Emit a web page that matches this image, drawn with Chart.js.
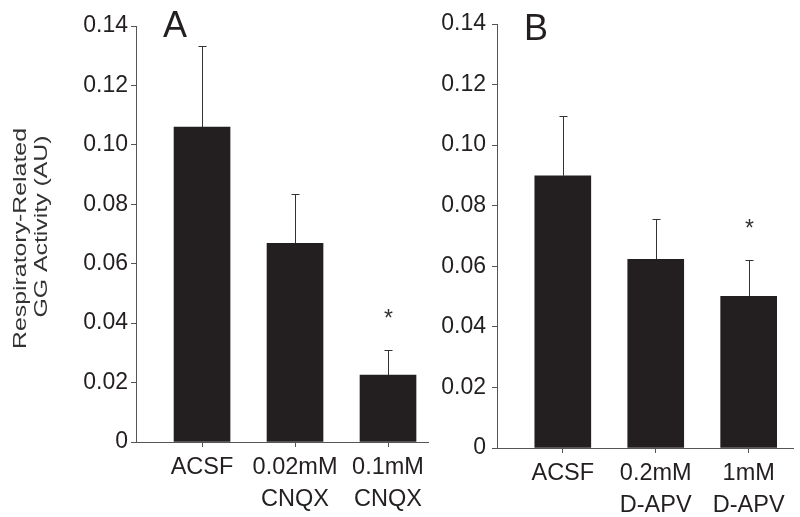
<!DOCTYPE html>
<html>
<head>
<meta charset="utf-8">
<script src="https://cdn.jsdelivr.net/npm/chart.js@4.4.1/dist/chart.umd.min.js"></script>
<style>
  body { margin: 0; background: #fff; }
  #wrap { position: relative; width: 800px; height: 517px; }
  canvas { position: absolute; top: 0; }
  #chartA { left: 0; }
  #chartB { left: 430px; }
</style>
</head>
<body>
<div id="wrap">
  <canvas id="chartA" width="430" height="517"></canvas>
  <canvas id="chartB" width="370" height="517"></canvas>
</div>
<script>
// dados
const categoriesA = [['ACSF'], ['0.02mM', 'CNQX'], ['0.1mM', 'CNQX']]
const valuesA = [0.106, 0.0669, 0.0225]
const errorsA = [0.0273, 0.0167, 0.0086]
const significantA = [false, false, true]

const categoriesB = [['ACSF'], ['0.2mM', 'D-APV'], ['1mM', 'D-APV']]
const valuesB = [0.0899, 0.0623, 0.0501]
const errorsB = [0.0196, 0.0134, 0.0121]
const significantB = [false, false, true]

const yTicks = [0, 0.02, 0.04, 0.06, 0.08, 0.10, 0.12, 0.14]

const fontFamily = "'Liberation Sans', Arial, sans-serif"
const inkColor = '#231f20'
const axisColor = '#555555'

// barras de erro + asterisco
const errorBarPlugin = {
  id: 'errorBars',
  afterDatasetsDraw(chart, args, opts) {
    let ctx = chart.ctx
    let yScale = chart.scales.y
    let meta = chart.getDatasetMeta(0)
    ctx.save()
    ctx.strokeStyle = '#333333'
    ctx.lineWidth = 1
    meta.data.forEach((bar, i) => {
      let x = Math.round(bar.x) + 0.5
      let yTop = Math.round(yScale.getPixelForValue(opts.values[i] + opts.errors[i])) + 0.5
      ctx.beginPath()
      ctx.moveTo(x, bar.y)
      ctx.lineTo(x, yTop)
      ctx.moveTo(x - 4, yTop)
      ctx.lineTo(x + 4, yTop)
      ctx.stroke()
      if (opts.significant[i]) {
        ctx.fillStyle = '#333333'
        ctx.font = '23px ' + fontFamily
        ctx.textAlign = 'center'
        ctx.textBaseline = 'alphabetic'
        ctx.fillText('*', x, yTop - 38 + 13)
      }
    })
    ctx.restore()
  }
}

const extraTextPlugin = {
  id: 'extraText',
  afterDraw(chart, args, opts) {
    let ctx = chart.ctx
    ctx.save()
    ctx.fillStyle = inkColor
    ctx.font = '36px ' + fontFamily
    ctx.textAlign = 'center'
    ctx.textBaseline = 'alphabetic'
    ctx.fillText(opts.letter, opts.letterX, opts.letterY)
    if (opts.yTitle) {
      ctx.font = '18px ' + fontFamily
      ctx.textBaseline = 'middle'
      opts.yTitle.forEach((line) => {
        ctx.save()
        ctx.translate(line.x, line.y)
        ctx.rotate(-Math.PI / 2)
        ctx.scale(1.38, 1)
        ctx.fillStyle = '#333333'
        ctx.fillText(line.text, 0, 0)
        ctx.restore()
      })
    }
    ctx.restore()
  }
}

function renderPanel(canvasId, categories, values, errors, significant, layout, extra) {
  let ctx = document.getElementById(canvasId).getContext('2d')
  let points = values.map((v, i) => ({ x: i + 1, y: v }))

  return new Chart(ctx, {
    type: 'bar',
    data: {
      datasets: [{
        data: points,
        backgroundColor: inkColor,
        borderWidth: 0,
        barThickness: 56
      }]
    },
    options: {
      responsive: false,
      animation: false,
      layout: {
        padding: { left: 0, top: layout.top, right: layout.right, bottom: 0 }
      },
      plugins: {
        legend: { display: false },
        tooltip: { enabled: false },
        errorBars: { values: values, errors: errors, significant: significant },
        extraText: extra
      },
      scales: {
        x: {
          type: 'linear',
          offset: false,
          min: layout.xMin,
          max: layout.xMax,
          afterFit: (scale) => { scale.height = layout.xHeight },
          afterBuildTicks: (scale) => {
            scale.ticks = categories.map((c, i) => ({ value: i + 1 }))
          },
          grid: {
            offset: false,
            drawOnChartArea: false,
            drawTicks: true,
            tickLength: 5,
            color: axisColor
          },
          border: { display: true, color: axisColor, width: 1 },
          ticks: {
            padding: 5,
            color: inkColor,
            font: { family: fontFamily, size: 23.5, lineHeight: 1.36 },
            maxRotation: 0,
            autoSkip: false,
            callback: (value) => categories[value - 1]
          }
        },
        y: {
          min: 0,
          max: 0.14,
          afterFit: (scale) => { scale.width = layout.yWidth },
          afterBuildTicks: (scale) => {
            scale.ticks = yTicks.map((t) => ({ value: t }))
          },
          grid: {
            drawOnChartArea: false,
            drawTicks: true,
            tickLength: 5,
            color: axisColor
          },
          border: { display: true, color: axisColor, width: 1 },
          ticks: {
            padding: layout.yPad,
            color: inkColor,
            font: { family: fontFamily, size: 23 },
            callback: (value) => value === 0 ? '0' : value.toFixed(2)
          }
        }
      }
    },
    plugins: [errorBarPlugin, extraTextPlugin]
  })
}

renderPanel('chartA', categoriesA, valuesA, errorsA, significantA,
  { top: 26, right: 2, xHeight: 75, yWidth: 136, yPad: 3, xMin: 0.29, xMax: 3.43 },
  {
    letter: 'A', letterX: 175, letterY: 37,
    yTitle: [
      { text: 'Respiratory-Related', x: 21, y: 238.5 },
      { text: 'GG Activity (AU)', x: 42, y: 226.5 }
    ]
  })

renderPanel('chartB', categoriesB, valuesB, errorsB, significantB,
  { top: 24, right: 7, xHeight: 69, yWidth: 67, yPad: 6, xMin: 0.292, xMax: 3.477 },
  { letter: 'B', letterX: 106, letterY: 40 })
</script>
</body>
</html>
